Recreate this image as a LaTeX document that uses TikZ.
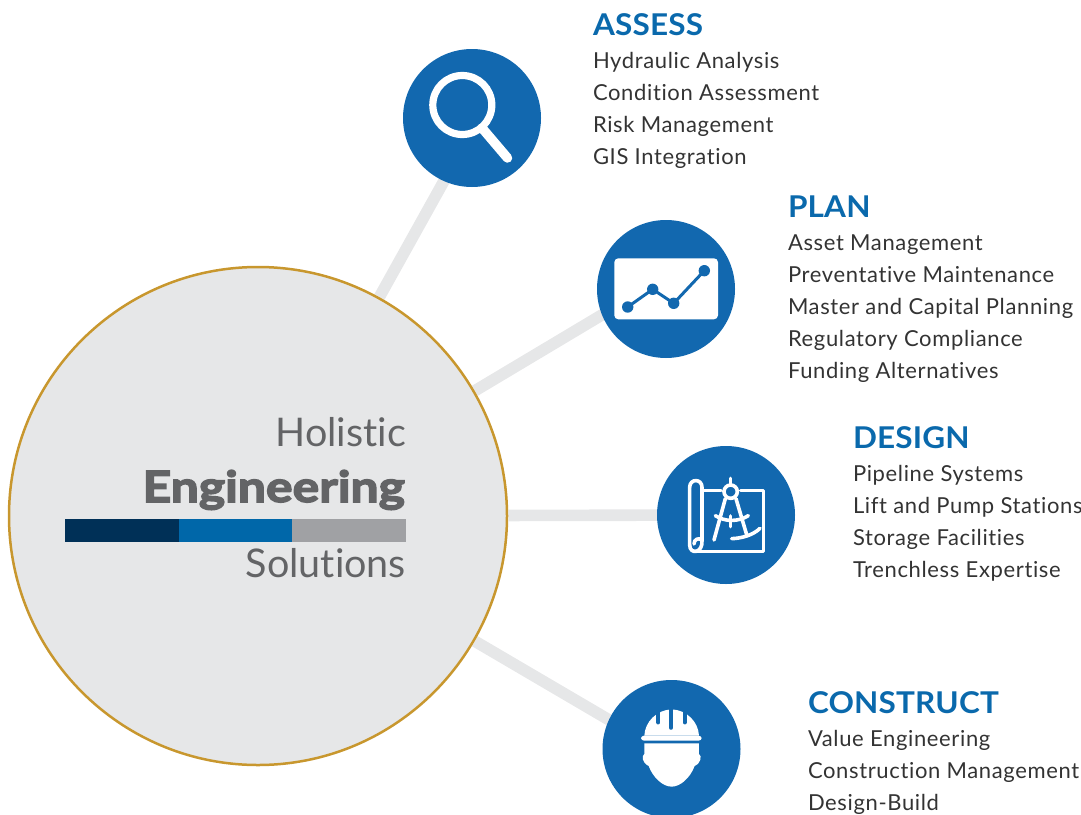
\documentclass[tikz,border=0pt]{standalone}
\usepackage{fontspec}
\setmainfont{Lato}[LetterSpace=2.9,Ligatures=NoCommon]
\newfontfamily\titlefont{Lato Bold}[LetterSpace=0.6,FakeStretch=1.05,Ligatures=NoCommon]
\newfontfamily\hubfont{Lato}[LetterSpace=0,Ligatures=NoCommon]
\newfontfamily\heavyfont{Lato Bold}[FakeBold=3.5,FakeStretch=1.16,Ligatures=NoCommon]
\usetikzlibrary{backgrounds}
\definecolor{discblue}{HTML}{1268AF}
\definecolor{titleblue}{HTML}{0A69AC}
\definecolor{bodyink}{HTML}{333333}
\definecolor{hubink}{HTML}{636466}
\definecolor{hubfill}{HTML}{E6E7E8}
\definecolor{hubline}{HTML}{C8972E}
\definecolor{barnavy}{HTML}{003057}
\definecolor{barblue}{HTML}{0067A9}
\definecolor{bargray}{HTML}{A0A1A4}
\tikzset{
  disc/.style={circle,fill=discblue,minimum size=138pt,inner sep=0pt,outer sep=0pt},
  hubdisc/.style={circle,fill=hubfill,draw=hubline,line width=2.5pt,minimum size=498pt,inner sep=0pt,outer sep=0pt},
  conn/.style={line width=11.6pt,draw=hubfill,shorten <=1.5pt,shorten >=-4pt},
  titletext/.style={anchor=base west,inner sep=0pt,outer sep=0pt,text=titleblue,font=\titlefont\fontsize{30}{34}\selectfont},
  bodytext/.style={anchor=base west,inner sep=0pt,outer sep=0pt,text=bodyink,font=\fontsize{22}{26}\selectfont},
  hubtext/.style={anchor=base east,inner sep=0pt,outer sep=0pt,text=hubink,font=\hubfont\fontsize{39.5}{44}\selectfont},
  whiteline/.style={draw=white,line width=3.6pt,line cap=round,line join=round,fill=none},
  barpart/.style={inner sep=0pt,outer sep=0pt,minimum height=23pt,anchor=west}
}
\begin{document}
\begin{tikzpicture}[x=1pt,y=-1pt]
\useasboundingbox (0,0) rectangle (1081,814);
% discs
\node[hubdisc] (hub) at (258,516) {};
\node[disc] (assess) at (472,118) {};
\node[disc] (plan) at (666,289) {};
\node[disc] (design) at (726,515) {};
\node[disc] (construct) at (671.5,749) {};
% connectors
\begin{pgfonlayer}{background}
\draw[conn] (hub.61.4) -- (assess.246.3);
\draw[conn] (hub.30.5) -- (plan.202);
\draw[conn] (hub) -- (design);
\draw[conn] (hub.-30.9) -- (construct.155.2);
\end{pgfonlayer}
% hub text and bar
\node[hubtext] (holistic) at (406,446.5) {Holistic};
\node[hubtext,font=\heavyfont\fontsize{43}{46}\selectfont] (engineering) at (405,502) {Engineering};
\node[hubtext] (solutions) at (406,577) {Solutions};
\node[barpart,fill=barnavy,minimum width=114pt] (bar1) at (65,530.5) {};
\node[barpart,fill=barblue,minimum width=113pt] (bar2) at (179,530.5) {};
\node[barpart,fill=bargray,minimum width=114pt] (bar3) at (292,530.5) {};
% magnifier
\draw[white,line width=7.2pt] (462.3,105) circle (29.5);
\draw[white,line width=9.5pt,line cap=round] (482,128) -- (507.5,158);
% chart
\fill[white,rounded corners=4pt] (614.3,258.3) rectangle (718,319.3);
\draw[discblue,line width=3pt] (627.7,307) -- (652.7,289.3) -- (673.7,303.3) -- (704.3,270.7);
\foreach \p in {(627.7,307),(652.7,289.3),(673.7,303.3),(704.3,270.7)}
  \fill[discblue] \p circle (5.7);
% blueprint and compass
\begin{scope}[shift={(640,440)},x=0.3333pt,y=-0.3333pt]
\draw[whiteline] (187,152) -- (243,152);
\draw[whiteline] (302,152) -- (370,152) -- (370,335) -- (170,335);
\draw[whiteline] (149,315) -- (149,142) .. controls (149,115) and (186,115) .. (186,142) -- (186,300);
\draw[whiteline] (149,315) .. controls (149,345) and (190,340) .. (186,300);
\draw[whiteline] (186,300) .. controls (175,292) and (162,298) .. (162,312);
\draw[whiteline] (272,155) circle (20);
\draw[whiteline] (272,115) -- (272,135);
\draw[whiteline] (256,176) -- (222,300);
\draw[whiteline] (288,176) -- (320,284);
\draw[whiteline] (226,227) .. controls (255,246) and (295,246) .. (325,227);
\draw[whiteline] (272,228) -- (272,260);
\draw[whiteline] (275,296) .. controls (305,295) and (340,285) .. (360,265);
\end{scope}
% hard hat and head
\begin{scope}[shift={(590,670)},x=0.3333pt,y=-0.3333pt]
\fill[white] (163,197) .. controls (165,155) and (200,120) .. (245,118) .. controls (290,120) and (325,155) .. (327,197) -- cycle;
\fill[white,rounded corners=3pt] (153,197) rectangle (335,212);
\draw[discblue,line width=4.3pt,line cap=round] (205,110) -- (205,157);
\draw[discblue,line width=4.3pt,line cap=round] (243,105) -- (243,173);
\draw[discblue,line width=4.3pt,line cap=round] (284,110) -- (284,157);
\fill[white] (163,220) -- (327,220) -- (327,252) .. controls (336,258) and (334,278) .. (314,288) .. controls (300,325) and (270,350) .. (245,350) .. controls (220,350) and (190,325) .. (176,288) .. controls (156,278) and (154,258) .. (163,252) -- cycle;
\end{scope}
% labels
\node[titletext] (t1) at (593,35.5) {ASSESS};
\node[bodytext] (a1) at (593,68) {Hydraulic Analysis};
\node[bodytext] (a2) at (593,100) {Condition Assessment};
\node[bodytext] (a3) at (593,132) {Risk Management};
\node[bodytext] (a4) at (593,164) {GIS Integration};
\node[titletext] (t2) at (788,217.5) {PLAN};
\node[bodytext] (b1) at (788,250) {Asset Management};
\node[bodytext] (b2) at (788,282) {Preventative Maintenance};
\node[bodytext] (b3) at (788,314) {Master and Capital Planning};
\node[bodytext] (b4) at (788,346) {Regulatory Compliance};
\node[bodytext] (b5) at (788,378) {Funding Alternatives};
\node[titletext] (t3) at (853,448.5) {DESIGN};
\node[bodytext] (c1) at (853,481) {Pipeline Systems};
\node[bodytext] (c2) at (853,513) {Lift and Pump Stations};
\node[bodytext] (c3) at (853,545) {Storage Facilities};
\node[bodytext] (c4) at (853,577) {Trenchless Expertise};
\node[titletext] (t4) at (808,713.5) {CONSTRUCT};
\node[bodytext] (d1) at (808,746) {Value Engineering};
\node[bodytext] (d2) at (808,778) {Construction Management};
\node[bodytext] (d3) at (808,810) {Design-Build};
\end{tikzpicture}
\end{document}
